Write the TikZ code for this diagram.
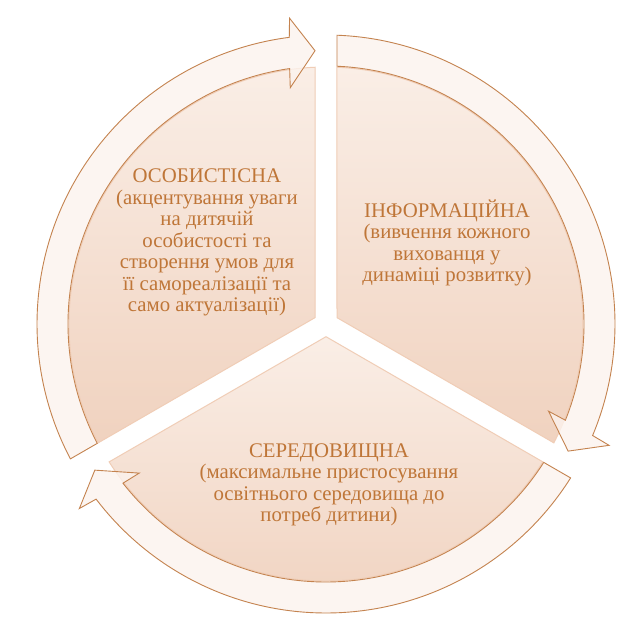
\documentclass[tikz,border=0pt]{standalone}
\usepackage{fontspec}
\setmainfont{Liberation Serif}
\usepackage{tikz}
\usetikzlibrary{positioning}

\definecolor{segtop}{HTML}{FAEEE6}
\definecolor{segbot}{HTML}{F0D2BF}
\definecolor{segedge}{HTML}{F0CDB6}
\definecolor{arrfill}{HTML}{FCF3EE}
\definecolor{arredge}{HTML}{C4834F}
\definecolor{txt}{HTML}{BF7638}

\begin{document}
\begin{tikzpicture}[
  x=1pt,y=1pt,
  seg/.style={top color=segtop,bottom color=segbot,draw=segedge,line width=1pt},
  arr/.style={fill=arrfill,fill opacity=0.8,draw=arredge,line width=0.9pt,line join=miter},
  lbl/.style={text=txt,align=center,font=\fontsize{20.8}{21.5}\selectfont}]
  \useasboundingbox[fill=white] (-326,-304) rectangle (301,324);
  % pie segments
  \foreach \g in {90,210,330}
    \path[seg] ({\g-60}:12.7) -- ({\g-2.45}:257)
      arc[start angle=\g-2.45,end angle=\g-117.55,radius=257] -- cycle;
  % circular arrows
  \foreach \g in {90,210,330}
    \path[arr] ({\g-2.18}:289)
      arc[start angle=\g-2.18,end angle=\g-112.7,radius=289]
      -- ({\g-113.2}:308) -- ({\g-117.7}:273.5) -- ({\g-111.4}:239)
      -- ({\g-111.9}:258)
      arc[start angle=\g-111.9,end angle=\g-2.44,radius=258] -- cycle;
  % labels
  \node[lbl] (osob) at (-119,81.5) {ОСОБИСТІСНА\\(акцентування уваги\\на дитячій\\особистості та\\створення умов для\\її самореалізації та\\само актуалізації)};
  \node[lbl] (inform) at (121,81) {ІНФОРМАЦІЙНА\\(вивчення кожного\\вихованця у\\динаміці розвитку)};
  \node[lbl] (sered) at (3,-161) {СЕРЕДОВИЩНА\\(максимальне пристосування\\освітнього середовища до\\потреб дитини)};
\end{tikzpicture}
\end{document}
